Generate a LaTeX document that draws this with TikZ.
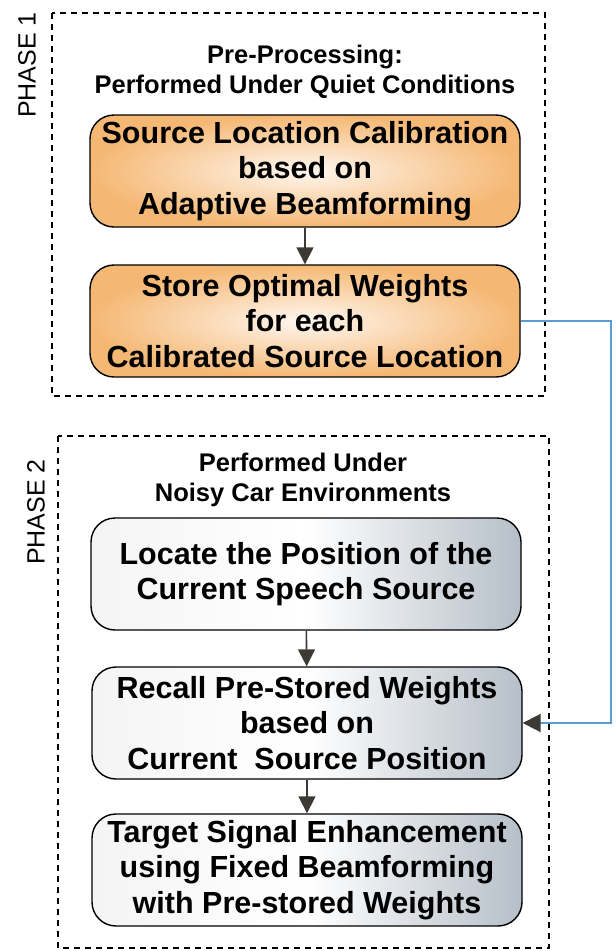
\documentclass[tikz,border=0pt]{standalone}
\usepackage{fontspec}
\setmainfont{Liberation Sans}
\usepackage{xcolor}
\usetikzlibrary{arrows.meta}

\definecolor{calibOrange}{HTML}{F5B874}
\definecolor{calibLight}{HTML}{FFF7F0}
\definecolor{carGray}{HTML}{B6BFC8}
\definecolor{carLight}{HTML}{F4F4F4}
\definecolor{tipGray}{HTML}{3B3A34}
\definecolor{linkBlue}{HTML}{5B9BD5}

\begin{document}
\begin{tikzpicture}[
    x=1pt, y=-1pt,
    stage/.style={
        draw,
        line width=1.4pt,
        rounded corners=24pt,
        minimum width=430pt,
        minimum height=112pt,
        align=center,
        font=\fontsize{30.5}{35.5}\selectfont\bfseries
    },
    offline/.style={stage, inner color=calibLight, outer color=calibOrange},
    online/.style={stage, left color=carLight, right color=carGray, middle color=white},
    phase/.style={draw, dashed, line width=1.3pt, dash pattern=on 6pt off 5pt},
    heading/.style={align=center, font=\fontsize{25.5}{30}\selectfont\bfseries},
    tag/.style={rotate=90, font=\fontsize{25}{28}\selectfont},
    flow/.style={-{Triangle[length=17pt,width=17pt]}, line width=1.6pt, tipGray},
    feedback/.style={-{Triangle[length=18pt,width=18pt,color=tipGray]}, line width=2pt, linkBlue}
]
\useasboundingbox (0,0) rectangle (616,951);

% phase frames
\draw[phase] (52,13) rectangle (545,396);
\draw[phase] (58,436) rectangle (549,948);

\node[tag] (tag1) at (27,65) {PHASE 1};
\node[tag] (tag2) at (36,512) {PHASE 2};

\node[heading] (head1) at (305,72) {Pre-Processing:\\Performed Under Quiet Conditions};
\node[heading] (head2) at (303,480) {Performed Under\\Noisy Car Environments};

% phase 1 blocks
\node[offline] (calib) at (305,171) {Source Location Calibration\\based on\\Adaptive Beamforming};
\node[offline] (store) at (305,321) {Store Optimal Weights\\for each\\Calibrated Source Location};

% phase 2 blocks
\node[online] (locate) at (306,574) {Locate the Position of the\\Current Speech Source};
\node[online] (recall) at (307,723) {Recall Pre-Stored Weights\\based on\\Current\ \ Source Position};
\node[online] (target) at (307,870) {Target Signal Enhancement\\using Fixed Beamforming\\with Pre-stored Weights};

\draw[flow] (calib) -- (store);
\draw[flow] (locate) -- (recall);
\draw[flow] (recall) -- (target);

\draw[feedback] (store.east) -- ++(90,0) |- (recall.east);

\end{tikzpicture}
\end{document}
